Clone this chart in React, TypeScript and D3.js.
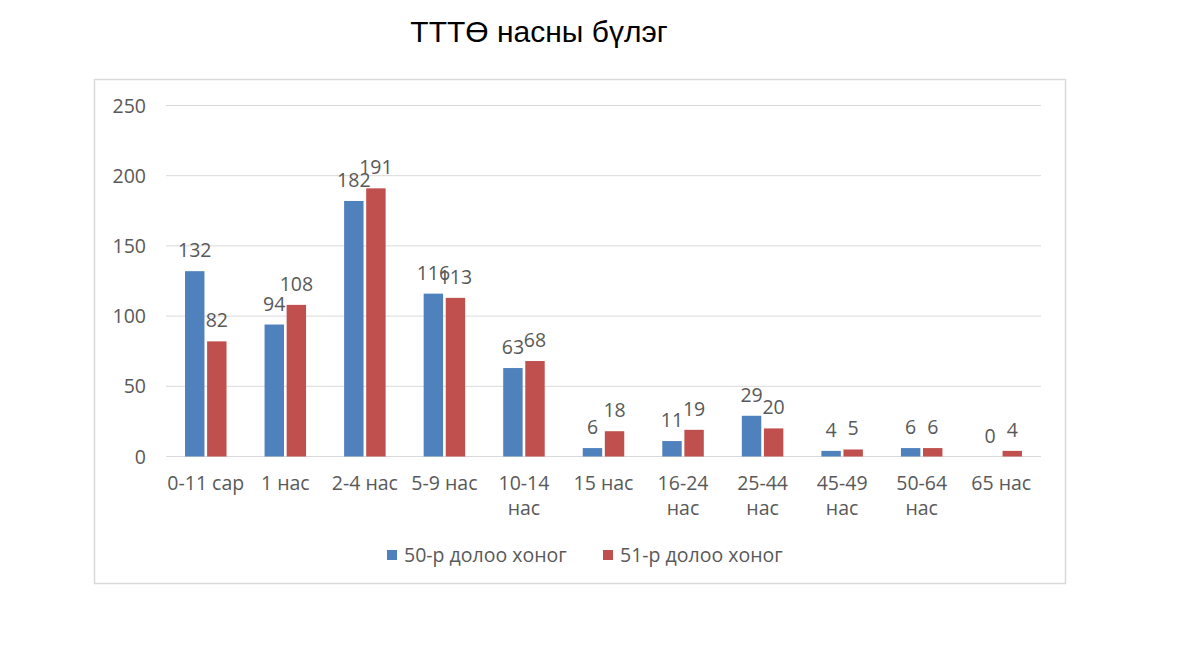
import React from "react";
import * as d3 from "d3";

const categories = [
  "0-11 сар",
  "1 нас",
  "2-4 нас",
  "5-9 нас",
  "10-14\nнас",
  "15 нас",
  "16-24\nнас",
  "25-44\nнас",
  "45-49\nнас",
  "50-64\nнас",
  "65 нас",
];
const week50 = [132, 94, 182, 116, 63, 6, 11, 29, 4, 6, 0];
const week51 = [82, 108, 191, 113, 68, 18, 19, 20, 5, 6, 4];
const seriesNames = ["50-р долоо хоног", "51-р долоо хоног"];
const seriesColors = ["#4f81bd", "#c0504d"];
const yTicks = [0, 50, 100, 150, 200, 250];
const title = "ТТТӨ насны бүлэг";

const W = 1200;
const H = 664;
const plot = { left: 166, right: 1041, top: 105.5, bottom: 456.5 };
const FONT = "'Open Sans', 'DejaVu Sans', sans-serif";
const TEXT = "#595959";
const FS = 19.5;

export default function App() {
  const x = d3
    .scaleBand<string>()
    .domain(categories)
    .range([plot.left, plot.right])
    .paddingInner(0)
    .paddingOuter(0);
  const y = d3.scaleLinear().domain([0, 250]).range([plot.bottom, plot.top]);
  const inner = d3
    .scaleBand<number>()
    .domain([0, 1])
    .range([0, 41.5])
    .paddingInner(0.12);
  const groupOffset = (x.bandwidth() - 41.5) / 2;
  const series = [week50, week51];

  return (
    <svg
      width={W}
      height={H}
      style={{ position: "absolute", left: 0, top: 0, background: "#fff" }}
    >
      <rect x={0} y={0} width={W} height={H} fill="#fff" />
      <text
        x={539}
        y={42}
        textAnchor="middle"
        fontFamily="'Liberation Sans', Arial, sans-serif"
        fontSize={30}
        fill="#000"
      >
        {title}
      </text>
      <rect
        x={94.5}
        y={79.5}
        width={971}
        height={504}
        fill="none"
        stroke="#d9d9d9"
        strokeWidth={1.5}
      />
      {yTicks.map((t) => (
        <g key={t}>
          <line
            x1={plot.left}
            x2={plot.right}
            y1={y(t)}
            y2={y(t)}
            stroke="#d9d9d9"
            strokeWidth={1}
          />
          <text
            x={146}
            y={y(t) + 7}
            textAnchor="end"
            fontFamily={FONT}
            fontSize={FS}
            fill={TEXT}
          >
            {t}
          </text>
        </g>
      ))}
      {categories.map((c, i) => (
        <g key={c}>
          {series.map((vals, s) => {
            const bx = (x(c) as number) + groupOffset + (inner(s) as number);
            const bw = inner.bandwidth();
            const v = vals[i];
            return (
              <g key={s}>
                {v > 0 && (
                  <rect
                    x={bx}
                    y={y(v)}
                    width={bw}
                    height={y(0) - y(v)}
                    fill={seriesColors[s]}
                  />
                )}
                <text
                  x={bx + bw / 2}
                  y={y(v) - 14}
                  textAnchor="middle"
                  fontFamily={FONT}
                  fontSize={FS}
                  fill={TEXT}
                >
                  {v}
                </text>
              </g>
            );
          })}
          <text
            x={(x(c) as number) + x.bandwidth() / 2}
            y={490}
            textAnchor="middle"
            fontFamily={FONT}
            fontSize={FS}
            fill={TEXT}
          >
            {c.split("\n").map((line, k) => (
              <tspan
                key={k}
                x={(x(c) as number) + x.bandwidth() / 2}
                dy={k === 0 ? 0 : 25}
              >
                {line}
              </tspan>
            ))}
          </text>
        </g>
      ))}
      {seriesNames.map((n, s) => {
        const lx = s === 0 ? 387 : 603;
        return (
          <g key={n}>
            <rect x={lx} y={550} width={10} height={10} fill={seriesColors[s]} />
            <text
              x={lx + 17}
              y={561.5}
              fontFamily={FONT}
              fontSize={FS}
              fill={TEXT}
            >
              {n}
            </text>
          </g>
        );
      })}
    </svg>
  );
}
